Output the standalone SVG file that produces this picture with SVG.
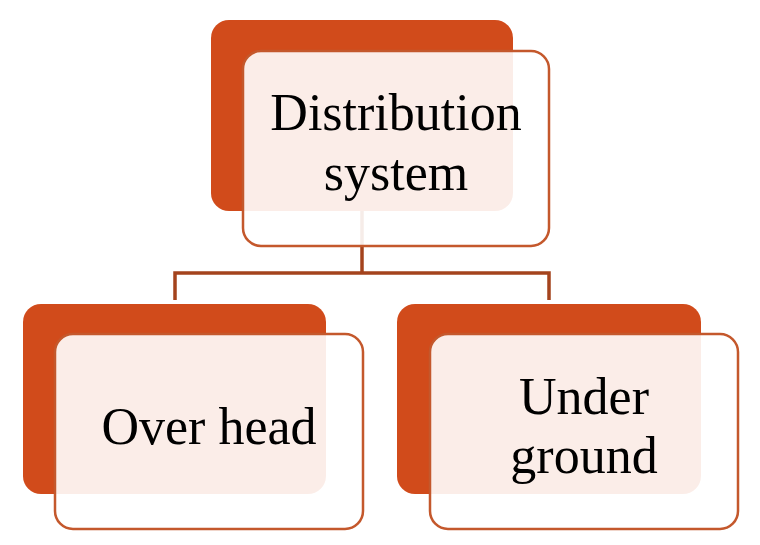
<svg xmlns="http://www.w3.org/2000/svg" width="760" height="545" viewBox="0 0 760 545">
<style>
.back{fill:#d14b1b}
.front{fill:#ffffff;fill-opacity:0.9;stroke:#c4582c;stroke-width:2.5}
.lbl{font-family:"Liberation Serif",serif;font-size:52px;fill:#000;text-anchor:middle}
.conn{fill:none;stroke:#a4431d;stroke-width:3.5}
</style>
<rect width="760" height="545" fill="#fff"/>
<g id="node-top-back"><rect class="back" x="211" y="20" width="302" height="191" rx="18"/></g>
<g id="node-left-back"><rect class="back" x="23" y="304" width="303" height="190" rx="18"/></g>
<g id="node-right-back"><rect class="back" x="397" y="304" width="304" height="190" rx="18"/></g>
<g id="connectors">
<polyline class="conn" points="362,211 362,273"/>
<polyline class="conn" points="175,300 175,273 549,273 549,300"/>
</g>
<g id="node-top">
<rect class="front" x="243" y="51" width="306" height="195" rx="18"/>
<text class="lbl" x="396" y="130">Distribution</text>
<text class="lbl" x="396" y="190">system</text>
</g>
<g id="node-left">
<rect class="front" x="55" y="334" width="308" height="195" rx="18"/>
<text class="lbl" x="209" y="444">Over head</text>
</g>
<g id="node-right">
<rect class="front" x="430" y="334" width="308" height="195" rx="18"/>
<text class="lbl" x="584" y="414">Under</text>
<text class="lbl" x="584" y="473">ground</text>
</g>
</svg>
